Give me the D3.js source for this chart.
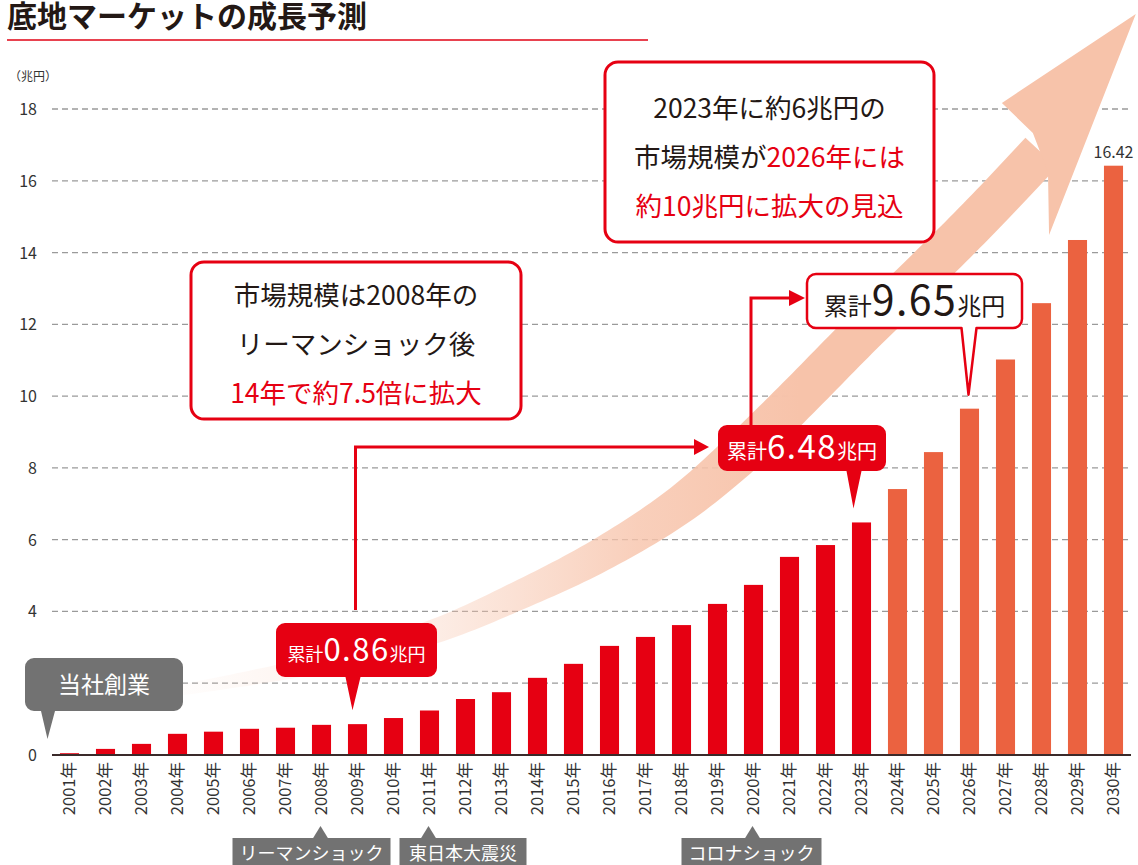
<!DOCTYPE html>
<html>
<head>
<meta charset="utf-8">
<script src="https://cdn.jsdelivr.net/npm/d3@7"></script>
<style>
  body { margin: 0; background: #fff; }
  svg { display: block; font-family: "Noto Sans CJK JP", "Noto Sans", sans-serif; }
</style>
</head>
<body>
<svg id="chart"></svg>
<script>
// 底地市場規模（兆円）
const years = [2001, 2002, 2003, 2004, 2005, 2006, 2007, 2008, 2009, 2010,
               2011, 2012, 2013, 2014, 2015, 2016, 2017, 2018, 2019, 2020,
               2021, 2022, 2023, 2024, 2025, 2026, 2027, 2028, 2029, 2030];
const values = [0.05, 0.17, 0.31, 0.59, 0.65, 0.73, 0.76, 0.84, 0.86, 1.03,
                1.24, 1.56, 1.75, 2.15, 2.54, 3.04, 3.29, 3.62, 4.21, 4.74,
                5.52, 5.85, 6.48, 7.41, 8.44, 9.65, 11.02, 12.59, 14.35, 16.42];
const forecastFrom = 2024;
const yTicks = [0, 2, 4, 6, 8, 10, 12, 14, 16, 18];
const eventYears = [2008, 2011, 2020];
const eventLabels = ["リーマンショック", "東日本大震災", "コロナショック"];
// growth arrow centre line, in (year, 兆円)
const arrowYears = [2004.07, 2007.4, 2011.01, 2013.51, 2015.74, 2017.96, 2019.76, 2021.18, 2022.96, 2024.82, 2026.43, 2027.99];
const arrowVals  = [1.81, 2.42, 3.4, 4.46, 5.57, 6.97, 8.5, 9.89, 11.7, 13.51, 15.13, 16.79];
const headYears = [2026.9, 2030.62, 2028.21, 2028.18, 2027.76];
const headVals  = [18.17, 20.65, 14.49, 16.24, 17.33];

const width = 1138, height = 865;
const RED = "#e60012", ORANGE = "#eb6240", INK = "#231815", GREY = "#727272";

const svg = d3.select("#chart").attr("width", width).attr("height", height);

const x = d3.scaleBand()
    .domain(years)
    .range([51.5, 1131.5])
    .paddingInner(0.47)
    .paddingOuter(0.235);
const xc = d => x(d) + x.bandwidth() / 2;
const xYear = d3.scaleLinear().domain([2001, 2030]).range([xc(2001), xc(2030)]);
const y = d3.scaleLinear().domain([0, 18]).range([755, 109]);

// title
svg.append("text")
    .attr("x", 7).attr("y", 27)
    .attr("font-size", 30).attr("font-weight", 700).attr("fill", INK)
    .text("底地マーケットの成長予測");
svg.append("line")
    .attr("x1", 7).attr("x2", 648).attr("y1", 40).attr("y2", 40)
    .attr("stroke", "#e8424f").attr("stroke-width", 2);

// unit
svg.append("text")
    .attr("x", 9).attr("y", 81)
    .attr("font-size", 12).attr("fill", "#333")
    .text("（兆円）");

// y axis ticks + grid
const grid = svg.append("g");
grid.selectAll("line")
    .data(yTicks.filter(d => d > 0))
    .join("line")
    .attr("x1", 52).attr("x2", 1131)
    .attr("y1", d => y(d)).attr("y2", d => y(d))
    .attr("stroke", "#9a9a9a").attr("stroke-width", 1.3)
    .attr("stroke-dasharray", "6,4");
grid.selectAll("text")
    .data(yTicks)
    .join("text")
    .attr("x", 37).attr("y", d => y(d) + 6)
    .attr("text-anchor", "end")
    .attr("font-size", 16).attr("fill", "#333")
    .text(d => d);

// growth arrow
const defs = svg.append("defs");
const grad = defs.append("linearGradient")
    .attr("id", "fade").attr("gradientUnits", "userSpaceOnUse")
    .attr("x1", 150).attr("x2", 800).attr("y1", 0).attr("y2", 0);
[[0, 0], [0.45, 0.32], [0.75, 0.8], [1, 1]].forEach(([o, a]) =>
    grad.append("stop").attr("offset", o).attr("stop-color", "#f7c3aa").attr("stop-opacity", a));

const centre = arrowYears.map((d, i) => [xYear(d), y(arrowVals[i])]);
const tmp = svg.append("path")
    .attr("d", d3.line().curve(d3.curveCatmullRom)(centre))
    .attr("fill", "none");
const node = tmp.node(), total = node.getTotalLength();
const N = 160, left = [], right = [];
for (let i = 0; i <= N; i++) {
    const t = i / N;
    const p = node.getPointAtLength(t * total);
    const a = node.getPointAtLength(Math.max(0, t * total - 1));
    const b = node.getPointAtLength(Math.min(total, t * total + 1));
    let dx = b.x - a.x, dy = b.y - a.y;
    const len = Math.hypot(dx, dy) || 1;
    dx /= len; dy /= len;
    const w = (11 + 32 * Math.min(1, t / 0.6)) / 2;
    left.push([p.x - dy * w, p.y + dx * w]);
    right.push([p.x + dy * w, p.y - dx * w]);
}
tmp.remove();
svg.append("path")
    .attr("d", d3.line()(left.concat(right.reverse())) + "Z")
    .attr("fill", "url(#fade)");
svg.append("polygon")
    .attr("points", headYears.map((d, i) => [xYear(d), y(headVals[i])].join(",")).join(" "))
    .attr("fill", "#f7c3aa");

// bars
svg.append("g").selectAll("rect")
    .data(years)
    .join("rect")
    .attr("x", d => x(d))
    .attr("width", x.bandwidth())
    .attr("y", (d, i) => y(values[i]))
    .attr("height", (d, i) => y(0) - y(values[i]))
    .attr("fill", d => d >= forecastFrom ? ORANGE : RED);

// baseline
svg.append("line")
    .attr("x1", 52).attr("x2", 1131).attr("y1", y(0)).attr("y2", y(0))
    .attr("stroke", "#3a2a2a").attr("stroke-width", 2);

// x labels
svg.append("g").selectAll("text")
    .data(years)
    .join("text")
    .attr("transform", d => `translate(${xc(d)},762) rotate(-90)`)
    .attr("text-anchor", "end")
    .attr("dy", "0.36em")
    .attr("font-size", 16.5).attr("fill", "#333")
    .text(d => d + "年");

// last value
svg.append("text")
    .attr("x", xc(2030)).attr("y", y(values[29]) - 8)
    .attr("text-anchor", "middle")
    .attr("font-size", 16).attr("fill", "#333")
    .text(values[29].toFixed(2));

// speech bubble outline: rounded box with a tail on its bottom edge
function bubble(bx, by, w, h, r, t1, t2, tx, ty) {
    return `M${bx + r},${by}H${bx + w - r}A${r},${r} 0 0 1 ${bx + w},${by + r}` +
        `V${by + h - r}A${r},${r} 0 0 1 ${bx + w - r},${by + h}` +
        `H${t2}L${tx},${ty}L${t1},${by + h}` +
        `H${bx + r}A${r},${r} 0 0 1 ${bx},${by + h - r}V${by + r}A${r},${r} 0 0 1 ${bx + r},${by}Z`;
}

// 当社創業
svg.append("path")
    .attr("d", bubble(25, 658, 158, 53, 9, 41, 55, xc(2001) - 22, 739))
    .attr("fill", GREY);
svg.append("text")
    .attr("x", 104).attr("y", 693)
    .attr("text-anchor", "middle")
    .attr("font-size", 23).attr("fill", "#fff")
    .text("当社創業");

// cumulative callouts
function cumulative(year, bx, by, w, h, sizes, tipDx, dark) {
    const i = years.indexOf(year);
    const tx = xc(year) + tipDx, ty = y(values[i]) - 14;
    svg.append("path")
        .attr("d", bubble(bx, by, w, h, 9, tx - 7, tx + 8, tx, ty))
        .attr("fill", dark ? "#fff" : RED)
        .attr("stroke", dark ? RED : "none")
        .attr("stroke-width", 2.5)
        .attr("stroke-linejoin", "round");
    const t = svg.append("text")
        .attr("x", bx + w / 2).attr("y", by + h / 2 + sizes[1] * 0.34)
        .attr("text-anchor", "middle")
        .attr("fill", dark ? INK : "#fff");
    t.append("tspan").attr("font-size", sizes[0]).text("累計");
    t.append("tspan").attr("font-size", sizes[1]).attr("letter-spacing", 1.5).text(values[i].toFixed(2));
    t.append("tspan").attr("font-size", sizes[0]).text("兆円");
}
cumulative(2009, 276, 623, 161, 54, [18, 31], -5, false);
cumulative(2023, 718, 425, 168, 46, [20, 33], -8, false);
cumulative(2026, 807, 274, 215, 54, [24, 41], -1, true);

// connector arrows
const conn = svg.append("g").attr("fill", RED);
conn.append("path")
    .attr("d", `M${xc(2009) - 2},610V447H697`)
    .attr("fill", "none").attr("stroke", RED).attr("stroke-width", 3);
conn.append("polygon").attr("points", "694,439 709,447 694,455");
conn.append("path")
    .attr("d", `M751,425V298H791`)
    .attr("fill", "none").attr("stroke", RED).attr("stroke-width", 3);
conn.append("polygon").attr("points", "789,290 805,298 789,306");

// message boxes
function messageBox(bx, by, w, h, lines, base, step) {
    svg.append("rect")
        .attr("x", bx).attr("y", by).attr("width", w).attr("height", h)
        .attr("rx", 13).attr("fill", "#fff")
        .attr("stroke", RED).attr("stroke-width", 3);
    lines.forEach((parts, k) => {
        const t = svg.append("text")
            .attr("x", bx + w / 2).attr("y", base + k * step)
            .attr("text-anchor", "middle")
            .attr("font-size", 26.5);
        parts.forEach(([s, c]) => t.append("tspan").attr("fill", c).text(s));
    });
}
messageBox(191, 262, 330, 157, [
    [["市場規模は2008年の", INK]],
    [["リーマンショック後", INK]],
    [["14年で約7.5倍に拡大", RED]]
], 305, 49);
messageBox(605, 62, 329, 180, [
    [["2023年に約6兆円の", INK]],
    [["市場規模が", INK], ["2026年には", RED]],
    [["約10兆円に拡大の見込", RED]]
], 118, 49);

// events below the axis
const evLeft = [-88, -29, -71], evWidth = [158, 127, 140];
const ev = svg.append("g");
eventYears.forEach((yr, k) => {
    const tx = xc(yr) - 1;
    ev.append("polygon")
        .attr("points", `${tx},826 ${tx - 8},839 ${tx + 8},839`)
        .attr("fill", GREY);
    ev.append("rect")
        .attr("x", tx + evLeft[k]).attr("y", 838)
        .attr("width", evWidth[k]).attr("height", 30)
        .attr("fill", GREY);
    ev.append("text")
        .attr("x", tx + evLeft[k] + evWidth[k] / 2).attr("y", 860)
        .attr("text-anchor", "middle")
        .attr("font-size", 18).attr("fill", "#fff")
        .text(eventLabels[k]);
});
</script>
</body>
</html>
